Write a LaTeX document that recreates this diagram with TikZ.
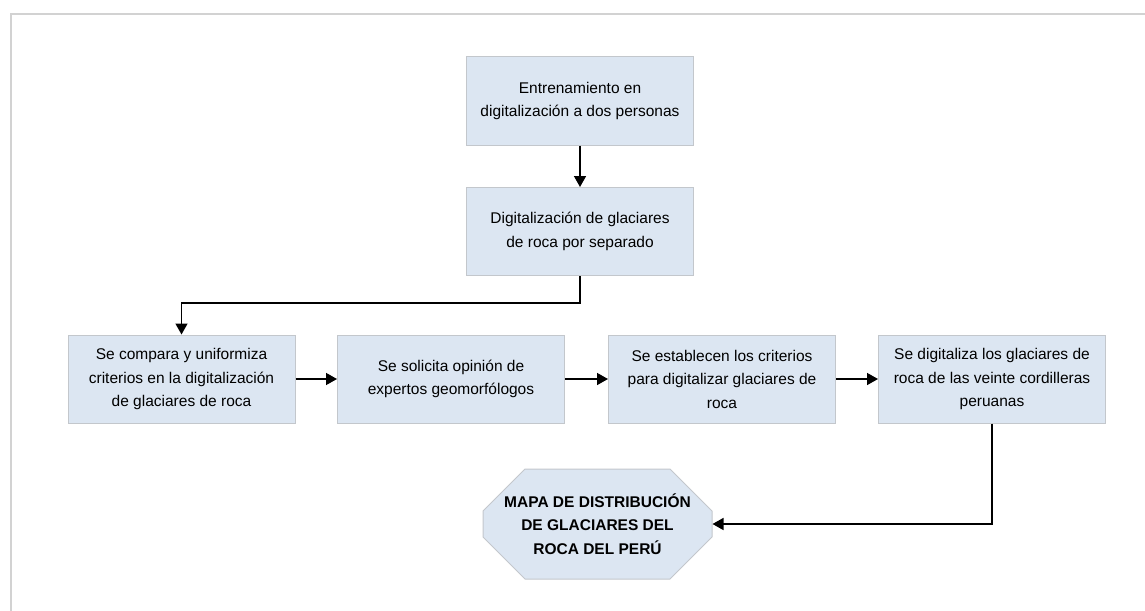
\documentclass[tikz,border=0pt]{standalone}
\usepackage{fontspec}
\setmainfont{Liberation Sans}
\usetikzlibrary{shapes.misc,arrows.meta}
\definecolor{cajafondo}{HTML}{DCE6F2}
\definecolor{cajaborde}{HTML}{C3C7CC}
\definecolor{marco}{HTML}{D2D2D2}
\begin{document}
\begin{tikzpicture}[x=1pt,y=-1pt,
  paso/.style={draw=cajaborde,fill=cajafondo,line width=1pt,minimum width=227pt,minimum height=88pt,
    inner sep=0pt,align=center,font=\fontsize{15.5}{23.5}\selectfont},
  resultado/.style={chamfered rectangle,chamfered rectangle xsep=19pt,chamfered rectangle ysep=23pt,
    draw=cajaborde,fill=cajafondo,line width=1pt,minimum width=229pt,minimum height=110pt,
    inner sep=0pt,align=center,font=\fontsize{15.5}{23.5}\selectfont\bfseries},
  flecha/.style={draw,line width=1.5pt,-{Triangle[length=11pt,width=12pt]}}]
  \useasboundingbox (0,0) rectangle (1145,610);
  \draw[marco,line width=1.2pt] (11,640) -- (11,14) -- (1160,14);
  % pasos
  \node[paso] (p1) at (580,101) {Entrenamiento en\\digitalización a dos personas};
  \node[paso] (p2) at (580,231.5) {Digitalización de glaciares\\de roca por separado};
  \node[paso] (p3) at (181.5,379) {Se compara y uniformiza\\criterios en la digitalización\\de glaciares de roca};
  \node[paso] (p4) at (451,379) {Se solicita opinión de\\expertos geomorfólogos};
  \node[paso] (p5) at (722,379) {Se establecen los criterios\\para digitalizar glaciares de\\roca};
  \node[paso] (p6) at (992,379) {Se digitaliza los glaciares de\\roca de las veinte cordilleras\\peruanas};
  \node[resultado] (mapa) at (597.5,524) {MAPA DE DISTRIBUCIÓN\\DE GLACIARES DEL\\ROCA DEL PERÚ};
  % conectores
  \draw[flecha] (p1) -- (p2);
  \draw[flecha] (p2.south) -- ++(0,27) -| (p3.north);
  \draw[flecha] (p3) -- (p4);
  \draw[flecha] (p4) -- (p5);
  \draw[flecha] (p5) -- (p6);
  \draw[flecha] (p6.south) |- (mapa.east);
\end{tikzpicture}
\end{document}
